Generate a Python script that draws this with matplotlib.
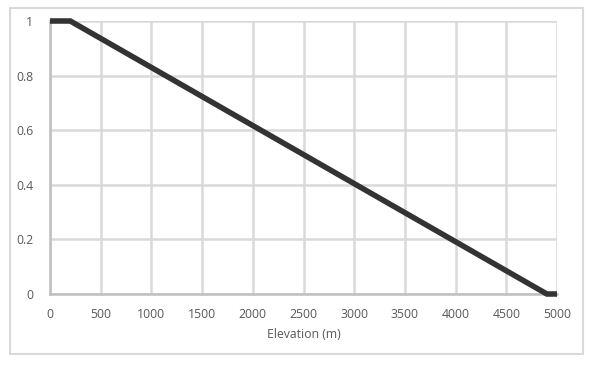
import numpy as np
import matplotlib.pyplot as plt
from matplotlib.patches import Rectangle
from matplotlib.ticker import FuncFormatter

# elevation (m) vs factor
elev = [0, 200, 4900, 5000]
factor = [1, 1, 0, 0]
xticks = np.arange(0, 5001, 500)
yticks = [0, 0.2, 0.4, 0.6, 0.8, 1]

plt.rcParams['font.family'] = ['Open Sans', 'DejaVu Sans']

fig = plt.figure(figsize=(5.92, 3.66), dpi=100)
fig.patches.append(Rectangle((9.5/592, 1 - 354/366), 573/592, 346/366,
                             transform=fig.transFigure, fill=False,
                             edgecolor='#d9d9d9', linewidth=1.5))
ax = fig.add_axes([50/592, 72/366, 507/592, 273/366])

ax.plot(elev, factor, color='#333333', linewidth=4, solid_capstyle='butt',
        solid_joinstyle='miter', clip_on=False, zorder=5)

ax.set_xlim(0, 5000)
ax.set_ylim(0, 1)
ax.set_xticks(xticks)
ax.set_yticks(yticks)
ax.yaxis.set_major_formatter(FuncFormatter(lambda v, p: '%g' % v))
ax.grid(True, color='#d9d9d9', linewidth=1.8)
ax.set_axisbelow(True)
for s in ['top', 'right']:
    ax.spines[s].set_visible(False)
for s in ['left', 'bottom']:
    ax.spines[s].set_color('#bfbfbf')
    ax.spines[s].set_linewidth(1.8)
ax.tick_params(length=0, labelsize=8.8, labelcolor='#595959')
ax.tick_params(axis='x', pad=10)
ax.tick_params(axis='y', pad=12)
ax.set_xlabel('Elevation (m)', fontsize=8.8, color='#595959', labelpad=5)

fig.savefig('out.png', dpi=100)
